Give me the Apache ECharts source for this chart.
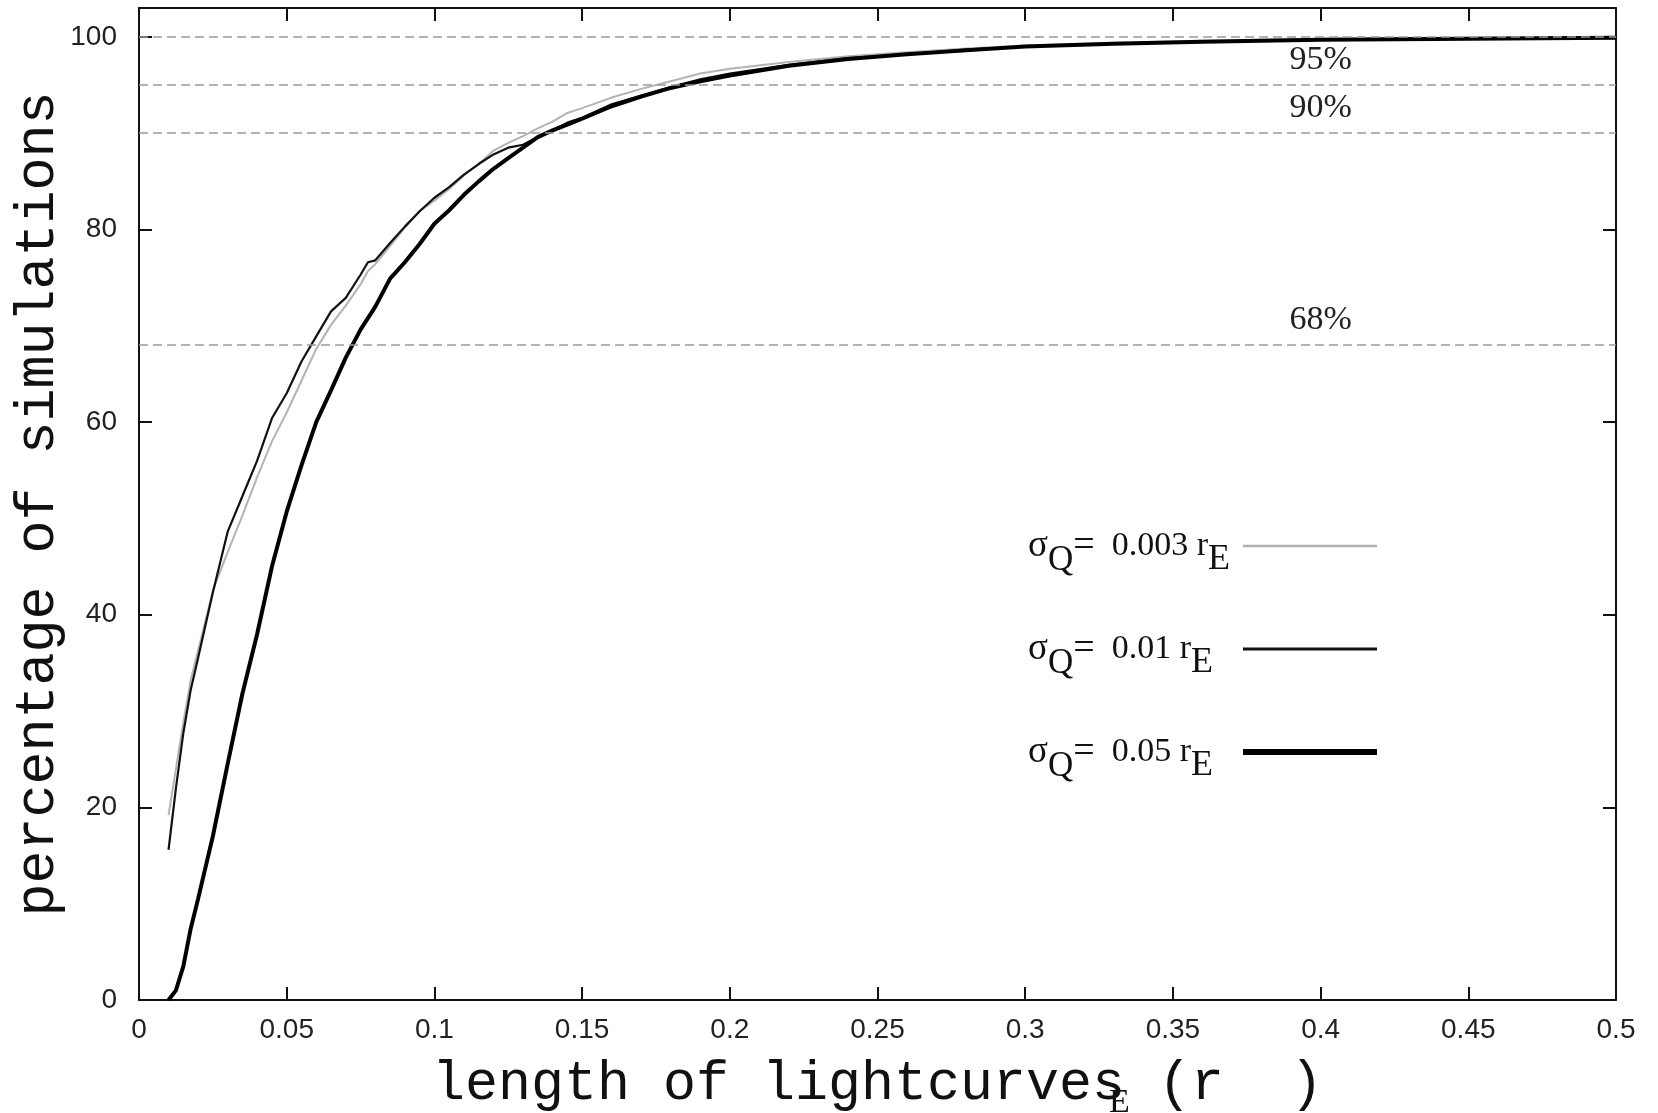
<!DOCTYPE html>
<html>
<head>
<meta charset="utf-8">
<script src="https://cdn.jsdelivr.net/npm/echarts@6/dist/echarts.min.js"></script>
<style>
  html, body { margin: 0; padding: 0; background: #fff; }
  #chart { width: 1658px; height: 1113px; }
</style>
</head>
<body>
<div id="chart"></div>
<script>
// x = length of lightcurves (r_E)
const lengths = [
  0.01, 0.0125, 0.015, 0.0175, 0.02, 0.025, 0.03, 0.035, 0.04, 0.045,
  0.05, 0.055, 0.06, 0.065, 0.07, 0.075, 0.0775, 0.08, 0.085, 0.09,
  0.095, 0.1, 0.105, 0.11, 0.115, 0.12, 0.125, 0.13, 0.135, 0.14,
  0.145, 0.15, 0.16, 0.17, 0.18, 0.19, 0.2, 0.22, 0.24, 0.26,
  0.28, 0.3, 0.33, 0.36, 0.4, 0.45, 0.5
]
// sigma_Q = 0.003 r_E (grey)
const pctSigma003 = [
  19.2, 24.0, 28.8, 33.2, 36.3, 42.5, 46.5, 50.3, 54.3, 58.0,
  61.0, 64.3, 67.6, 70.1, 72.1, 74.3, 75.7, 76.4, 78.3, 80.2,
  81.9, 83.0, 84.2, 85.6, 86.8, 88.2, 89.0, 89.7, 90.5, 91.2,
  92.1, 92.6, 93.7, 94.6, 95.4, 96.2, 96.7, 97.4, 98.0, 98.4,
  98.8, 99.1, 99.4, 99.6, 99.8, 99.9, 100
]
// sigma_Q = 0.01 r_E (thin black)
const pctSigma01 = [
  15.6, 22.0, 27.7, 32.2, 35.5, 42.3, 48.6, 52.3, 56.0, 60.4,
  63.0, 66.3, 68.9, 71.5, 72.9, 75.3, 76.6, 76.8, 78.6, 80.3,
  81.9, 83.3, 84.4, 85.7, 86.8, 87.8, 88.5, 88.8, 89.6, 90.3,
  91.1, 91.6, 93.0, 93.9, 94.8, 95.6, 96.2, 97.1, 97.8, 98.2,
  98.7, 99.0, 99.3, 99.5, 99.7, 99.8, 99.9
]
// sigma_Q = 0.05 r_E (thick black)
const pctSigma05 = [
  0, 1.0, 3.5, 7.4, 10.5, 17.0, 24.5, 31.8, 38.0, 45.0,
  50.7, 55.5, 60.0, 63.3, 66.7, 69.6, 70.8, 72.0, 74.9, 76.6,
  78.5, 80.6, 82.0, 83.6, 85.0, 86.3, 87.4, 88.5, 89.6, 90.3,
  90.9, 91.5, 92.8, 93.8, 94.7, 95.4, 96.0, 97.0, 97.7, 98.2,
  98.6, 99.0, 99.3, 99.5, 99.7, 99.8, 99.9
]
const sigmaLabels = ['0.003', '0.01', '0.05']
const thresholds = [100, 95, 90, 68]
const labelledThresholds = [95, 90, 68]
const labelX = 0.4

const chart = echarts.init(document.getElementById('chart'))

const toPairs = ys => lengths.map((x, i) => [x, ys[i]])
const seriesNames = sigmaLabels.map(s => 'sigmaQ = ' + s + ' rE')
const seriesColors = ['#b3b3b3', '#111', '#000']
const seriesWidths = [2, 2.2, 4]
const legendWidths = [2.6, 3.2, 6]

const tickFont = { fontFamily: 'Liberation Sans', fontSize: 28, color: '#222' }
const titleFont = { fontFamily: 'Liberation Mono', fontSize: 55, color: '#111' }
const frameLine = { color: '#111', width: 2 }
const serif = 'Liberation Serif'

const option = {
  backgroundColor: '#fff',
  animation: false,
  grid: {
    left: 139,
    right: 42,
    top: 8,
    bottom: 113,
    containLabel: false,
    outerBoundsMode: 'none'
  },
  xAxis: [
    {
      type: 'value',
      min: 0,
      max: 0.5,
      interval: 0.05,
      position: 'bottom',
      name: 'length of lightcurves (r  )',
      nameLocation: 'middle',
      nameGap: 57,
      nameTextStyle: titleFont,
      axisLine: { onZero: false, lineStyle: frameLine },
      axisTick: { inside: true, length: 13, lineStyle: frameLine },
      axisLabel: { ...tickFont, margin: 16 },
      splitLine: { show: false }
    },
    {
      type: 'value',
      min: 0,
      max: 0.5,
      interval: 0.05,
      position: 'top',
      axisLine: { onZero: false, lineStyle: frameLine },
      axisTick: { inside: true, length: 13, lineStyle: frameLine },
      axisLabel: { show: false },
      splitLine: { show: false }
    }
  ],
  yAxis: [
    {
      type: 'value',
      min: 0,
      max: 103,
      interval: 20,
      position: 'left',
      name: 'percentage of simulations',
      nameLocation: 'middle',
      nameGap: 73,
      nameMoveOverlap: false,
      nameTextStyle: titleFont,
      axisLine: { show: true, onZero: false, lineStyle: frameLine },
      axisTick: { show: true, inside: true, length: 13, lineStyle: frameLine },
      axisLabel: { ...tickFont, margin: 22, showMaxLabel: false },
      splitLine: { show: false }
    },
    {
      type: 'value',
      min: 0,
      max: 103,
      interval: 20,
      position: 'right',
      axisLine: { show: true, onZero: false, lineStyle: frameLine },
      axisTick: { show: true, inside: true, length: 13, lineStyle: frameLine },
      axisLabel: { show: false },
      splitLine: { show: false }
    }
  ],
  legend: {
    orient: 'vertical',
    left: 1028,
    top: 527,
    padding: 0,
    align: 'right',
    itemWidth: 134,
    itemHeight: 14,
    itemGap: 52,
    selectedMode: false,
    itemStyle: { opacity: 0 },
    data: seriesNames.map((n, i) => ({
      name: n,
      itemStyle: { opacity: 0 },
      lineStyle: { width: legendWidths[i], color: seriesColors[i] }
    })),
    formatter: function(name) {
      const i = seriesNames.indexOf(name)
      return '{s|σ}{q|Q}{eq|=}{m|  ' + sigmaLabels[i] + ' r}{e|E}'
    },
    textStyle: {
      width: 210,
      rich: {
        s: { fontFamily: serif, fontSize: 37, lineHeight: 64, color: '#111', align: 'left' },
        q: { fontFamily: serif, fontSize: 35, lineHeight: 26, verticalAlign: 'bottom', color: '#111', align: 'left' },
        eq: { fontFamily: serif, fontSize: 38, lineHeight: 64, color: '#111', align: 'left' },
        m: { fontFamily: serif, fontSize: 34, lineHeight: 64, color: '#111', align: 'left' },
        e: { fontFamily: serif, fontSize: 36, lineHeight: 26, verticalAlign: 'bottom', color: '#111', align: 'left' }
      }
    }
  },
  graphic: [
    {
      type: 'text',
      left: 1109,
      top: 1086,
      silent: true,
      style: { text: 'E', font: '34px "Liberation Serif"', fill: '#111' }
    }
  ],
  series: [
    {
      name: seriesNames[0],
      type: 'line',
      data: toPairs(pctSigma003),
      showSymbol: false,
      symbol: 'none',
      lineStyle: { color: seriesColors[0], width: seriesWidths[0] },
      itemStyle: { color: seriesColors[0] },
      markLine: {
        silent: true,
        symbol: 'none',
        label: { show: false },
        lineStyle: { color: '#9a9a9a', width: 1.6, type: [9, 5] },
        data: thresholds.map(v => ({ yAxis: v }))
      },
      markPoint: {
        silent: true,
        symbol: 'circle',
        symbolSize: 0,
        label: {
          show: true,
          position: 'top',
          distance: 8,
          fontFamily: serif,
          fontSize: 34,
          color: '#222',
          formatter: p => p.value + '%'
        },
        data: labelledThresholds.map(v => ({ coord: [labelX, v], value: v }))
      }
    },
    {
      name: seriesNames[1],
      type: 'line',
      data: toPairs(pctSigma01),
      showSymbol: false,
      symbol: 'none',
      lineStyle: { color: seriesColors[1], width: seriesWidths[1] },
      itemStyle: { color: seriesColors[1] }
    },
    {
      name: seriesNames[2],
      type: 'line',
      data: toPairs(pctSigma05),
      showSymbol: false,
      symbol: 'none',
      lineStyle: { color: seriesColors[2], width: seriesWidths[2] },
      itemStyle: { color: seriesColors[2] }
    }
  ]
}

chart.setOption(option)
</script>
</body>
</html>
